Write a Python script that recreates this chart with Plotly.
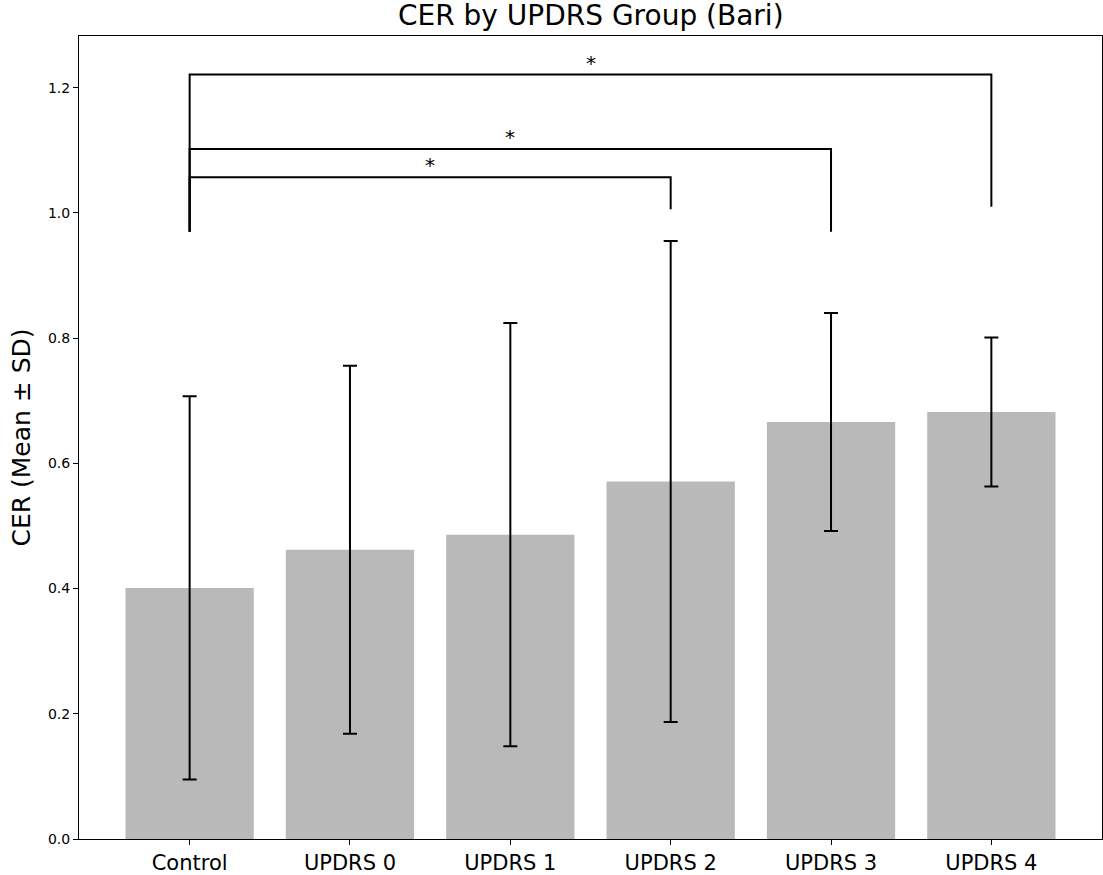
import plotly.graph_objects as go

# Group means and standard deviations of CER
groups = ["Control", "UPDRS 0", "UPDRS 1", "UPDRS 2", "UPDRS 3", "UPDRS 4"]
cer_mean = [0.401, 0.462, 0.486, 0.571, 0.666, 0.682]
cer_sd = [0.306, 0.294, 0.338, 0.384, 0.174, 0.119]

# Significance brackets: (left group, right group), bar height, leg ends, label
bracket_pairs = [("Control", "UPDRS 2"), ("Control", "UPDRS 3"), ("Control", "UPDRS 4")]
bracket_heights = [1.057, 1.102, 1.221]
bracket_left_ends = [0.970, 0.970, 0.970]
bracket_right_ends = [1.006, 0.970, 1.010]
bracket_labels = ["*", "*", "*"]

y_ticks = [0.0, 0.2, 0.4, 0.6, 0.8, 1.0, 1.2]

FONT = "DejaVu Sans"

fig = go.Figure()
fig.add_trace(go.Bar(
    x=list(range(len(groups))),
    y=cer_mean,
    width=0.8,
    marker=dict(color="#b9b9b9", line=dict(width=0)),
    error_y=dict(type="data", array=cer_sd, visible=True,
                 color="black", thickness=2, width=7),
    showlegend=False,
    hoverinfo="skip",
))

annotations = []
for (g1, g2), h, e1, e2, lab in zip(bracket_pairs, bracket_heights,
                                    bracket_left_ends, bracket_right_ends,
                                    bracket_labels):
    x1, x2 = groups.index(g1), groups.index(g2)
    fig.add_trace(go.Scatter(
        x=[x1, x1, x2, x2], y=[e1, h, h, e2],
        mode="lines", line=dict(color="black", width=2),
        showlegend=False, hoverinfo="skip",
    ))
    annotations.append(dict(
        x=(x1 + x2) / 2, y=h, xref="x", yref="y",
        text=lab, showarrow=False, yanchor="middle", yshift=12,
        font=dict(family=FONT, size=20, color="black"),
    ))

annotations.append(dict(
    x=0.5, y=1.0, xref="paper", yref="paper", yanchor="bottom", yshift=2,
    text="CER by UPDRS Group (Bari)", showarrow=False,
    font=dict(family=FONT, size=28, color="black"),
))

fig.update_layout(
    width=1103, height=875,
    margin=dict(l=79, r=1, t=36, b=36),
    paper_bgcolor="white", plot_bgcolor="white",
    font=dict(family=FONT, color="black"),
    annotations=annotations,
    bargap=0.2,
)
fig.update_xaxes(
    range=[-0.69, 5.69],
    tickmode="array", tickvals=list(range(len(groups))), ticktext=groups,
    tickfont=dict(family=FONT, size=21, color="black"),
    ticks="outside", ticklen=5, tickwidth=1, tickcolor="black",
    showline=True, linecolor="black", linewidth=1, mirror=True,
    showgrid=False, zeroline=False,
)
fig.update_yaxes(
    range=[0, 1.2826],
    tickmode="array", tickvals=y_ticks, ticktext=[f"{v:.1f}" for v in y_ticks],
    tickfont=dict(family=FONT, size=14, color="black"),
    ticks="outside", ticklen=5, tickwidth=1, tickcolor="black",
    showline=True, linecolor="black", linewidth=1, mirror=True,
    showgrid=False, zeroline=False,
    title=dict(text="CER (Mean ± SD)", font=dict(family=FONT, size=25, color="black"),
               standoff=10),
)

fig.write_html("out.html")
